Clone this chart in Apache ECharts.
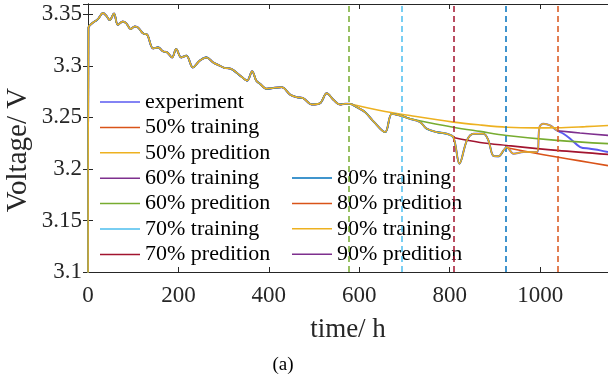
<!DOCTYPE html>
<html>
<head>
<meta charset="utf-8">
<script src="https://cdn.jsdelivr.net/npm/echarts@6/dist/echarts.min.js"></script>
<style>
  html, body { margin: 0; padding: 0; background: #fff; }
  #chart { width: 608px; height: 384px; }
</style>
</head>
<body>
<div id="chart"></div>
<script>
// measured experiment curve (time in h, voltage in V)
var expT = [1, 7, 22, 33, 40.5, 48, 57.5, 66, 77, 85, 94.5, 103, 110.5, 122, 131, 144, 155, 166, 175, 186,
  195, 206, 217.5, 232, 247, 262, 276.5, 291, 302, 317, 339, 352, 363, 372, 380.5, 395, 410, 428.5, 447, 462,
  476, 495, 513, 528, 543, 557.5, 568.5, 578, 594.5, 613, 631, 657, 672, 690, 712, 734.5, 749, 771.5, 793.5, 808,
  821.5, 838, 852.5, 874.5, 885.5, 896.5, 907.5, 919, 926, 941, 963, 992.5, 998.5, 1007, 1022, 1037, 1051.5,
  1066.5, 1088.5, 1110.5, 1132.5, 1150]
var expV = [3.3372, 3.3405, 3.3454, 3.3512, 3.3486, 3.3444, 3.3508, 3.3398, 3.3430, 3.3411, 3.3357, 3.3382, 3.3372, 3.3314, 3.3302, 3.3169, 3.3179, 3.3140, 3.3131, 3.3082,
  3.3163, 3.3082, 3.3099, 3.2985, 3.3050, 3.3082, 3.3034, 3.3002, 3.2980, 3.2970, 3.2896, 3.2857, 3.2947, 3.2857, 3.2825, 3.2777, 3.2786, 3.2792, 3.2721, 3.2695,
  3.2686, 3.2625, 3.2637, 3.2734, 3.2670, 3.2625, 3.2632, 3.2632, 3.2599, 3.2550, 3.2463, 3.2357, 3.2535, 3.2518, 3.2486, 3.2454, 3.2390, 3.2357, 3.2341, 3.2309,
  3.2051, 3.2277, 3.2341, 3.2341, 3.2277, 3.2127, 3.2122, 3.2180, 3.2212, 3.2148, 3.2163, 3.2163, 3.2405, 3.2438, 3.2422, 3.2373, 3.2341,
  3.2293, 3.2212, 3.2196, 3.2180, 3.2163]

// training split times (h)
var splits = [577.5, 693, 808.5, 924, 1039.5]
var splitColors = ['#77AC30', '#4DBEEE', '#A2142F', '#0072BD', '#D95319']

// model start value at t = 0 (below the axis range)
var fitStartV = 3.0

// prediction curves
var p50T = [578, 646, 712, 808, 870, 926, 990, 1037, 1100, 1150]
var p50V = [3.2632, 3.2567, 3.2518, 3.2454, 3.2425, 3.2405, 3.2398, 3.2399, 3.2410, 3.2422]
var p60T = [692, 712, 808, 867, 926, 1037, 1150]
var p60V = [3.2520, 3.2486, 3.2405, 3.2364, 3.2325, 3.2277, 3.2245]
var p70T = [808, 867, 926, 1037, 1150]
var p70V = [3.2305, 3.2257, 3.2228, 3.2180, 3.2141]
var p80T = [926, 978, 1037, 1088, 1150]
var p80V = [3.2205, 3.2161, 3.2115, 3.2078, 3.2032]
var p90T = [1038, 1088, 1150]
var p90V = [3.2370, 3.2349, 3.2325]

var names1 = ['experiment', '50% training', '50% predition', '60% training', '60% predition', '70% training', '70% predition']
var names2 = ['80% training', '80% predition', '90% training', '90% predition']

var font = '"Liberation Serif", "Times New Roman", serif'
var ink = '#262626'

function pairs (t, v) {
  return t.map(function (x, i) { return [x, v[i]] })
}
function training (limit) {
  var out = [[0, fitStartV]]
  expT.forEach(function (t, i) {
    if (t <= limit) out.push([t, expV[i]])
  })
  return out
}
function line (name, color, data, z, width) {
  return {
    name: name,
    type: 'line',
    data: data,
    symbol: 'none',
    smooth: 0.35,
    z: z || 2,
    lineStyle: { color: color, width: width || 1.6 },
    itemStyle: { color: color }
  }
}

var chart = echarts.init(document.getElementById('chart'))

var legendBase = {
  orient: 'vertical',
  icon: 'rect',
  padding: 0,
  itemWidth: 40,
  itemHeight: 1.5,
  itemGap: 3.4,
  textStyle: { fontFamily: font, fontSize: 22, lineHeight: 22, color: '#000' }
}

var axisLineStyle = { show: true, lineStyle: { color: ink, width: 1 } }
var tickLabel = {
  fontFamily: font, fontSize: 23, color: ink,
  showMaxLabel: false,
  formatter: function (v) { return String(v) }
}

chart.setOption({
  animation: false,
  backgroundColor: '#fff',
  textStyle: { fontFamily: font },
  grid: { left: 88, right: 0, top: 4, bottom: 112 },
  legend: [
    Object.assign({}, legendBase, { data: names1, left: 100, top: 91 }),
    Object.assign({}, legendBase, { data: names2, left: 292, top: 167 })
  ],
  xAxis: [{
    type: 'value', min: 0, max: 1150, interval: 200,
    name: 'time/ h', nameLocation: 'middle', nameGap: 44,
    nameTextStyle: { fontFamily: font, fontSize: 27, color: ink },
    axisLine: axisLineStyle,
    axisTick: { inside: true, length: 5, lineStyle: { color: ink } },
    axisLabel: Object.assign({ margin: 12 }, tickLabel),
    splitLine: { show: false }
  }, {
    type: 'value', min: 0, max: 1150, interval: 200, position: 'top',
    axisLine: axisLineStyle,
    axisTick: { inside: true, length: 5, lineStyle: { color: ink } },
    axisLabel: { show: false },
    splitLine: { show: false }
  }],
  yAxis: [{
    type: 'value', min: 3.1, max: 3.36, interval: 0.05,
    axisLine: axisLineStyle,
    axisTick: { inside: true, length: 5, lineStyle: { color: ink } },
    axisLabel: Object.assign({ margin: 6 }, tickLabel),
    splitLine: { show: false }
  }, {
    type: 'value', min: 3.1, max: 3.36, interval: 0.05, position: 'right',
    axisLine: axisLineStyle,
    axisTick: { inside: true, length: 5, lineStyle: { color: ink } },
    axisLabel: { show: false },
    splitLine: { show: false }
  }],
  graphic: [{
    type: 'text', x: 18, y: 150, rotation: Math.PI / 2,
    style: { text: 'Voltage/ V', fontFamily: font, fontSize: 29, fill: ink, align: 'center', verticalAlign: 'middle' }
  }, {
    type: 'text', x: 283, y: 365,
    style: { text: '(a)', fontFamily: font, fontSize: 19, fill: '#000', align: 'center', verticalAlign: 'middle' }
  }],
  series: [
    line('experiment', '#5a5af0', pairs(expT, expV), 2, 2),
    line('50% training', '#D95319', training(splits[0])),
    line('50% predition', '#EDB120', pairs(p50T, p50V)),
    line('60% training', '#7E2F8E', training(splits[1])),
    line('60% predition', '#77AC30', pairs(p60T, p60V)),
    line('70% training', '#4DBEEE', training(splits[2])),
    line('70% predition', '#A2142F', pairs(p70T, p70V)),
    line('80% training', '#0072BD', training(splits[3])),
    line('80% predition', '#D95319', pairs(p80T, p80V)),
    line('90% training', '#EDB120', training(splits[4]), 5, 1.5),
    line('90% predition', '#7E2F8E', pairs(p90T, p90V)),
    {
      type: 'line',
      data: [],
      markLine: {
        silent: true,
        symbol: ['none', 'none'],
        label: { show: false },
        data: splits.map(function (s, i) {
          return { xAxis: s, lineStyle: { color: splitColors[i], type: [6, 4], width: 1.5 } }
        })
      }
    }
  ]
})
</script>
</body>
</html>
